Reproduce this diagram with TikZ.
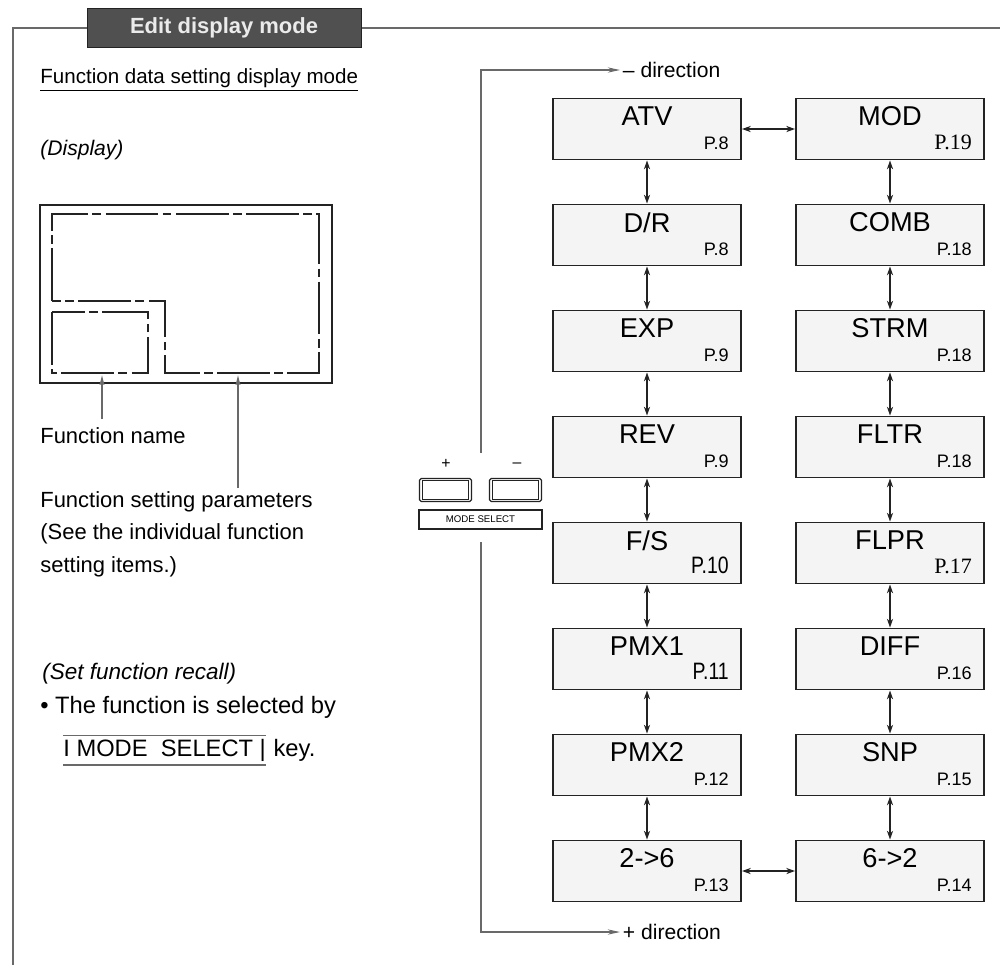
\documentclass[tikz,border=0pt]{standalone}
\usepackage{fontspec}
\setmainfont{Liberation Sans}
\newfontfamily\pgserif{Liberation Serif}
\newfontfamily\pgnarrow[FakeStretch=0.82]{Liberation Sans}
\usetikzlibrary{arrows.meta,positioning}
\definecolor{manualInk}{RGB}{35,35,35}
\definecolor{manualTitle}{RGB}{80,80,80}
\definecolor{manualBox}{RGB}{244,244,244}
\definecolor{manualRule}{RGB}{105,105,105}

\begin{document}
\begin{tikzpicture}[x=0.02cm,y=-0.02cm,
  fnbox/.style={draw=manualInk,line width=1.1pt,fill=manualBox,minimum width=3.76cm,minimum height=1.22cm,inner sep=0pt},
  fnname/.style={below=1.5pt,font=\fontsize{15.5}{16}\selectfont},
  fnpage/.style={anchor=south east,xshift=-4pt,yshift=2.5pt,font=\fontsize{10.3}{11}\selectfont},
  link/.style={{Stealth[length=5pt,width=3.5pt]}-{Stealth[length=5pt,width=3.5pt]},line width=0.8pt,draw=manualInk},
  dirarrow/.style={-{Stealth[length=7pt,width=3pt]},draw=manualRule,line width=0.6pt},
  pointer/.style={-{Latex[length=6pt,width=3pt]},draw=manualRule,line width=0.8pt},
  screen/.style={draw=manualInk,line width=1pt,dash pattern=on 30pt off 2.5pt on 5pt off 2.5pt},
  keycap/.style={draw=manualInk,line width=0.7pt,rounded corners=1pt,minimum width=1.04cm,minimum height=0.46cm,inner sep=0pt},
  ltext/.style={anchor=west,font=\fontsize{12.5}{18.5}\selectfont,inner sep=0pt}]

  \useasboundingbox (0,0) rectangle (1000,965);
  \draw[manualRule,line width=0.8pt] (13,965) -- (13,28) -- (1000,28);
  \node[fill=manualTitle,draw=manualInk,text=white!92!black,font=\bfseries\fontsize{12.5}{13}\selectfont,
        minimum width=5.48cm,minimum height=0.78cm] (title) at (224,27.5) {Edit display mode};

  % left column: display layout
  \node[ltext,font=\fontsize{11.7}{14}\selectfont] (head) at (40,80) {\underline{Function data setting display mode}};
  \node[ltext,font=\itshape\fontsize{12}{14}\selectfont] (disp) at (40,150) {(Display)};

  \draw[manualInk,line width=1.5pt] (40,205) rectangle (332,383);
  \draw[screen] (52,301) -- (52,214) -- (319,214) -- (319,373) -- (165,373) -- (165,301) -- cycle;
  \draw[screen] (52,312) rectangle (148,373);

  \node[ltext] (fname) at (40,436) {Function name};
  \node[ltext,anchor=north west,align=left] (fset) at (40,491)
    {Function setting parameters\\(See the individual function\\setting items.)};
  \coordinate (fnfoot) at (102,419);
  \coordinate (fnpt) at (102,374);
  \coordinate (fsfoot) at (238,488);
  \coordinate (fspt) at (238,374);
  \draw[pointer] (fnfoot) -- (fnpt);
  \draw[pointer] (fsfoot) -- (fspt);

  \node[ltext,font=\itshape\fontsize{12.8}{14}\selectfont] (recall) at (42,674) {(Set function recall)};
  \node[ltext,font=\fontsize{13.5}{15}\selectfont] (bullet) at (40,707) {\textbullet\ The function is selected by};
  \node[ltext,inner ysep=2pt,font=\fontsize{13.5}{15}\selectfont] (mskey) at (63,750) {I MODE\ \ SELECT |};
  \draw[manualRule,line width=0.6pt] (mskey.north west) -- (mskey.north east);
  \draw[manualRule,line width=0.6pt] (mskey.south west) -- (mskey.south east);
  \node[ltext,anchor=base west,font=\fontsize{13.5}{15}\selectfont] (keyword) at ([xshift=4pt]mskey.base east) {key.};

  % function boxes
  \foreach \n/\r/\lab/\pg in {atv/0/ATV/P.8, dr/1/{D/R}/P.8, exp/2/EXP/P.9, rev/3/REV/P.9,
      fs/4/{F/S}/{\pgnarrow\fontsize{13.5}{14}\selectfont P.10}, pmxa/5/PMX1/{\pgnarrow\fontsize{13.5}{14}\selectfont P.11},
      pmxb/6/PMX2/P.12, twosix/7/2->6/P.13}{
    \node[fnbox] (\n) at (647,{129+\r*106}) {};
    \node[fnname] (\n-t) at (\n.north) {\lab};
    \node[fnpage] (\n-p) at (\n.south east) {\pg};
  }
  \foreach \n/\r/\lab/\pg in {mod/0/MOD/{\pgserif\fontsize{12.5}{13}\selectfont P.19}, comb/1/COMB/P.18,
      strm/2/STRM/P.18, fltr/3/FLTR/P.18, flpr/4/FLPR/{\pgserif\fontsize{12.5}{13}\selectfont P.17},
      diff/5/DIFF/P.16, snp/6/SNP/P.15, sixtwo/7/6->2/P.14}{
    \node[fnbox] (\n) at (890,{129+\r*106}) {};
    \node[fnname] (\n-t) at (\n.north) {\lab};
    \node[fnpage] (\n-p) at (\n.south east) {\pg};
  }
  \foreach \a/\b in {atv/dr,dr/exp,exp/rev,rev/fs,fs/pmxa,pmxa/pmxb,pmxb/twosix,
      mod/comb,comb/strm,strm/fltr,fltr/flpr,flpr/diff,diff/snp,snp/sixtwo}
    \draw[link] (\a) -- (\b);
  \draw[link] (atv) -- (mod);
  \draw[link] (twosix) -- (sixtwo);

  % mode select keys and direction bracket
  \foreach \k/\x in {bplus/445.5,bminus/515.5}{
    \node[keycap] (\k) at (\x,490) {};
    \draw[manualInk,line width=0.5pt] ([shift={(2pt,-1.6pt)}]\k.north west) rectangle ([shift={(-2pt,1.6pt)}]\k.south east);
  }
  \node[font=\fontsize{9}{9}\selectfont] (plus) at (446,464) {+};
  \node[font=\fontsize{9}{9}\selectfont] (minus) at (517,465) {--};
  \node[draw=manualInk,line width=0.6pt,minimum width=2.46cm,minimum height=0.38cm,inner sep=0pt,
        font=\fontsize{5.5}{6}\selectfont] (msel) at (480.5,519.5) {MODE SELECT};

  \coordinate (gtop) at (481,453);
  \coordinate (gbot) at (481,542);
  \node[anchor=west,inner sep=1.5pt,font=\fontsize{12}{13}\selectfont] (minusdir) at (620,70) {-- direction};
  \node[anchor=west,inner sep=1.5pt,font=\fontsize{12}{13}\selectfont] (plusdir) at (620,932) {+ direction};
  \draw[dirarrow] (gtop) |- (minusdir.west);
  \draw[dirarrow] (gbot) |- (plusdir.west);
\end{tikzpicture}
\end{document}
